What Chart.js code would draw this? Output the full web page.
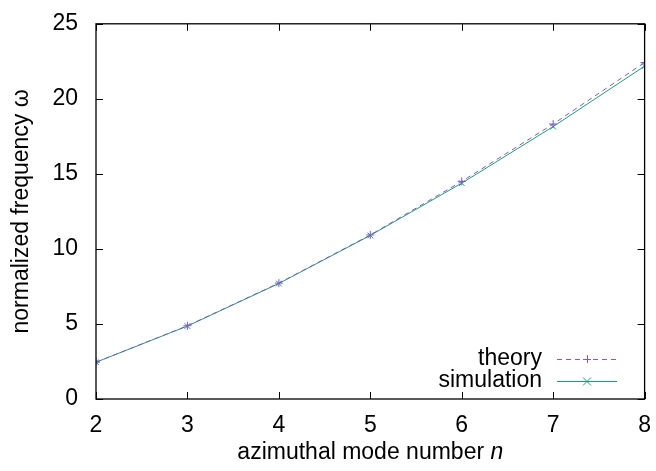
<!DOCTYPE html>
<html>
<head>
<meta charset="utf-8">
<script src="https://cdn.jsdelivr.net/npm/chart.js@4.4.1/dist/chart.umd.min.js"></script>
<style>
  html, body { margin: 0; padding: 0; background: #fff; }
  #wrap { width: 656px; height: 471px; }
</style>
</head>
<body>
<div id="wrap"><canvas id="grafico" width="656" height="471"></canvas></div>
<script>
  // azimuthal mode number n
  const modos = [2, 3, 4, 5, 6, 7, 8];
  // normalized frequency
  const teoria = [2.45, 4.88, 7.72, 10.93, 14.50, 18.32, 22.42];
  const simulacao = [2.45, 4.86, 7.70, 10.90, 14.38, 18.15, 22.18];
  const ticksX = [2, 3, 4, 5, 6, 7, 8];
  const ticksY = [0, 5, 10, 15, 20, 25];

  const FONTE = '"Liberation Sans", Arial, Helvetica, sans-serif';
  const TAM = 23;
  const ROXO = '#8a55cc';
  const VERDE = '#1e9e78';

  const pontos = (ys) => modos.map((n, i) => ({ x: n, y: ys[i] }));

  // moldura, tiques para dentro, título do eixo x e legenda no estilo gnuplot
  const molduraPlugin = {
    id: 'moldura',
    afterDatasetsDraw(chart) {
      const { ctx, chartArea: a, scales } = chart;
      ctx.save();
      ctx.strokeStyle = '#000';
      ctx.lineWidth = 1.3;
      ctx.strokeRect(a.left, a.top, a.right - a.left, a.bottom - a.top);
      ctx.lineWidth = 1;
      const len = 7;
      ticksX.forEach(v => {
        const px = Math.round(scales.x.getPixelForValue(v)) + 0.5;
        ctx.beginPath();
        ctx.moveTo(px, a.bottom); ctx.lineTo(px, a.bottom - len);
        ctx.moveTo(px, a.top); ctx.lineTo(px, a.top + len);
        ctx.stroke();
      });
      ticksY.forEach(v => {
        const py = Math.round(scales.y.getPixelForValue(v)) + 0.5;
        ctx.beginPath();
        ctx.moveTo(a.left, py); ctx.lineTo(a.left + len, py);
        ctx.moveTo(a.right, py); ctx.lineTo(a.right - len, py);
        ctx.stroke();
      });

      // título do eixo x com o n em itálico
      const normal = TAM + 'px ' + FONTE;
      const italico = 'italic ' + TAM + 'px ' + FONTE;
      const parte1 = 'azimuthal mode number ', parte2 = 'n';
      ctx.font = normal;
      const w1 = ctx.measureText(parte1).width;
      ctx.font = italico;
      const w2 = ctx.measureText(parte2).width;
      const xIni = (a.left + a.right) / 2 - (w1 + w2) / 2;
      ctx.fillStyle = '#000';
      ctx.textAlign = 'left';
      ctx.textBaseline = 'middle';
      ctx.font = normal;
      ctx.fillText(parte1, xIni, 453);
      ctx.font = italico;
      ctx.fillText(parte2, xIni + w1, 453);

      // legenda: texto alinhado à direita, depois amostra da linha
      ctx.font = normal;
      ctx.textAlign = 'right';
      chart.data.datasets.forEach((ds, i) => {
        const y = 359 + i * 22;
        const xTexto = 542, x0 = 557, x1 = 617;
        ctx.fillStyle = '#000';
        ctx.fillText(ds.label, xTexto, y);
        ctx.strokeStyle = ds.borderColor;
        ctx.lineWidth = 1;
        ctx.setLineDash(ds.borderDash || []);
        ctx.beginPath();
        ctx.moveTo(x0, y + 0.5); ctx.lineTo(x1, y + 0.5);
        ctx.stroke();
        ctx.setLineDash([]);
        const cx = (x0 + x1) / 2, r = 4;
        ctx.beginPath();
        if (ds.pointStyle === 'cross') {
          ctx.moveTo(cx - r, y + 0.5); ctx.lineTo(cx + r, y + 0.5);
          ctx.moveTo(cx + 0.5, y - r); ctx.lineTo(cx + 0.5, y + r);
        } else {
          ctx.moveTo(cx - r, y - r + 0.5); ctx.lineTo(cx + r, y + r + 0.5);
          ctx.moveTo(cx - r, y + r + 0.5); ctx.lineTo(cx + r, y - r + 0.5);
        }
        ctx.stroke();
      });
      ctx.restore();
    }
  };

  new Chart(document.getElementById('grafico').getContext('2d'), {
    type: 'line',
    data: {
      datasets: [
        {
          label: 'theory',
          data: pontos(teoria),
          borderColor: ROXO,
          backgroundColor: ROXO,
          borderWidth: 1,
          borderDash: [5, 4],
          pointStyle: 'cross',
          pointRadius: 4,
          pointBorderWidth: 1,
          tension: 0
        },
        {
          label: 'simulation',
          data: pontos(simulacao),
          borderColor: VERDE,
          backgroundColor: VERDE,
          borderWidth: 1,
          pointStyle: 'crossRot',
          pointRadius: 4,
          pointBorderWidth: 1,
          tension: 0
        }
      ]
    },
    options: {
      responsive: false,
      animation: false,
      layout: { padding: { top: 13, right: 10, left: 0, bottom: 0 } },
      plugins: { legend: { display: false }, tooltip: { enabled: false } },
      scales: {
        x: {
          type: 'linear',
          min: 2, max: 8,
          afterFit: (s) => { s.height = 72; },
          afterBuildTicks: (s) => { s.ticks = ticksX.map(v => ({ value: v })); },
          grid: { display: false },
          border: { display: false },
          ticks: { padding: 5, color: '#000', font: { family: FONTE, size: TAM } },
          title: { display: false }
        },
        y: {
          min: 0, max: 25,
          afterFit: (s) => { s.width = 96; },
          afterBuildTicks: (s) => { s.ticks = ticksY.map(v => ({ value: v })); },
          grid: { display: false },
          border: { display: false },
          ticks: { padding: 10, color: '#000', font: { family: FONTE, size: TAM } },
          title: {
            display: true,
            text: 'normalized frequency ω',
            color: '#000',
            font: { family: FONTE, size: TAM },
            padding: { top: 8, bottom: 4 }
          }
        }
      }
    },
    plugins: [molduraPlugin]
  });
</script>
</body>
</html>
